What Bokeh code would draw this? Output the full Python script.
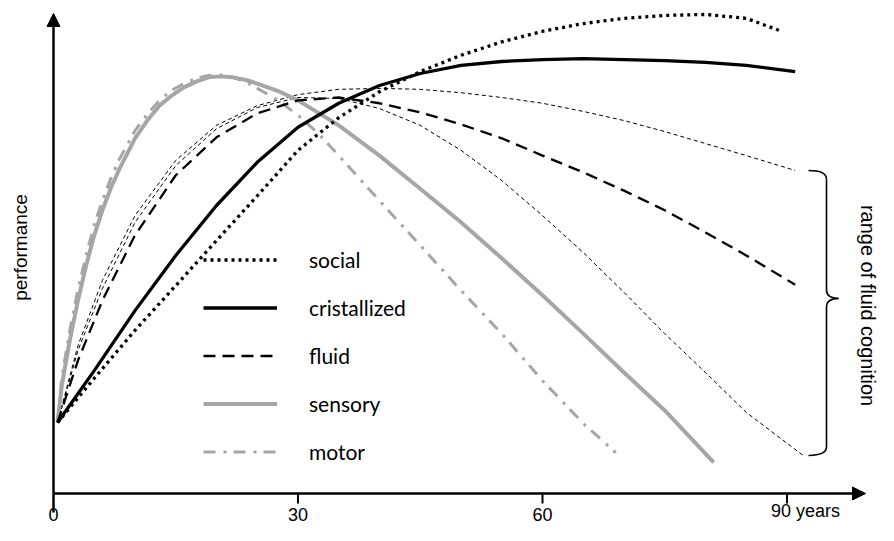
import numpy as np
from bokeh.plotting import figure
from bokeh.models import Range1d, Arrow, NormalHead, Legend, LegendItem
from bokeh.embed import file_html
from bokeh.resources import INLINE
from bokeh.core.properties import value

# ---------------- data (age in years, performance in arbitrary units 0-100) -------------
social_age = [0.5, 5, 10, 15, 20, 25, 30, 35, 40, 45, 50, 55, 60, 65, 70, 75, 80, 85, 89]
social_perf = [14.8, 24.0, 34.0, 43.3, 52.7, 62.0, 71.5, 78.3, 83.7, 87.9, 91.3, 94.1, 96.3, 97.9, 99.0, 99.6, 99.8, 99.0, 96.5]

cristallized_age = [0.5, 5, 10, 15, 20, 25, 30, 35, 40, 45, 50, 55, 60, 65, 70, 75, 80, 85, 91]
cristallized_perf = [14.8, 25.6, 38.1, 49.6, 60.0, 69.0, 76.3, 81.3, 85.0, 87.5, 89.2, 90.0, 90.4, 90.6, 90.4, 90.2, 89.8, 89.2, 87.9]

fluid_age = [0.5, 3, 6, 10, 15, 20, 25, 30, 35, 40, 45, 50, 55, 60, 65, 70, 75, 80, 85, 91]
fluid_perf = [14.8, 27.7, 40.2, 53.8, 66.3, 74.2, 79.2, 81.9, 82.5, 81.3, 79.4, 76.9, 74.0, 70.4, 66.9, 63.1, 59.0, 54.4, 49.6, 43.5]

fluid_high_age = [0.5, 3, 6, 10, 15, 20, 25, 30, 35, 40, 45, 50, 55, 60, 65, 70, 75, 80, 85, 91]
fluid_high_perf = [14.8, 30.8, 44.4, 57.9, 69.4, 76.7, 80.8, 83.1, 84.2, 84.4, 84.2, 83.5, 82.5, 81.3, 79.6, 77.7, 75.4, 72.9, 70.4, 67.3]

fluid_low_age = [0.5, 3, 6, 10, 15, 20, 25, 30, 35, 40, 45, 50, 55, 60, 65, 70, 75, 80, 85, 92]
fluid_low_perf = [14.8, 29.8, 42.7, 56.5, 68.3, 76.0, 80.4, 82.5, 82.3, 80.2, 76.7, 71.5, 65.2, 57.9, 50.2, 41.9, 33.3, 25.2, 16.9, 7.9]

sensory_age = [0.5, 1, 2, 3, 4, 5, 6, 7, 8, 10, 11.5, 13, 14.5, 16, 17.5, 19, 20.5, 22, 23.5, 25, 27.5,
               30, 35, 40, 45, 50, 55, 60, 65, 70, 75, 81]
sensory_perf = [14.8, 22.3, 31.9, 40.2, 47.5, 53.8, 59.0, 63.5, 67.3, 74.0, 77.7, 80.8, 82.9, 84.6, 85.8, 86.7, 86.9, 86.7, 86.2, 85.4, 83.9,
                81.9, 76.7, 70.4, 63.5, 56.5, 49.0, 41.3, 33.3, 25.2, 17.3, 6.5]

motor_age = [0.5, 1, 2, 3, 4, 5, 6, 7, 8, 10, 11.5, 13, 14.5, 16, 17.5, 19, 20.5, 22, 23.5, 25, 27.5,
             30, 32.5, 35, 40, 45, 50, 55, 60, 65, 69]
motor_perf = [14.8, 24.0, 34.0, 42.5, 49.6, 56.0, 61.0, 65.5, 69.4, 75.6, 79.0, 81.9, 84.0, 85.4, 86.5, 87.1, 87.2, 86.7, 85.8, 84.4, 82.0,
              78.8, 75.0, 70.4, 61.0, 51.7, 42.3, 33.3, 23.5, 14.6, 8.5]

TICKS = [0, 30, 60, 90]
TICK_LABELS = ["0", "30", "60", "90 years"]
LEGEND_LABELS = ["social", "cristallized", "fluid", "sensory", "motor"]
Y_LABEL = "performance"
BRACE_LABEL = "range of fluid cognition"

# ---------------- figure -------------------------------------------------------------------
W, H = 878, 525
PX_X, PX_Y = 8.15, 4.8          # pixels per year / per performance unit
OX, OY = 53, 493                # canvas position of the origin

def sx(px):   # canvas x -> age
    return (px - OX) / PX_X

def sy(py):   # canvas y -> performance
    return (OY - py) / PX_Y

p = figure(width=W, height=H, output_backend="svg", toolbar_location=None,
           x_range=Range1d(sx(0), sx(W)), y_range=Range1d(sy(H), sy(0)),
           min_border=0, outline_line_color=None)
p.axis.visible = False
p.grid.visible = False
p.background_fill_color = "white"
p.border_fill_color = "white"

GRAY = "#a6a6a6"
BLACK = "#000000"

# thin dashed range of fluid cognition
p.line(fluid_high_age, fluid_high_perf, line_color=BLACK, line_width=1, line_dash="4 3")
p.line(fluid_low_age, fluid_low_perf, line_color=BLACK, line_width=1, line_dash="4 3")

r_sens = p.line(sensory_age, sensory_perf, line_color=GRAY, line_width=4, line_join="round")
r_motor = p.line(motor_age, motor_perf, line_color=GRAY, line_width=3, line_dash="12 8 3 7")
r_fluid = p.line(fluid_age, fluid_perf, line_color=BLACK, line_width=2.3, line_dash="12 7")
r_crist = p.line(cristallized_age, cristallized_perf, line_color=BLACK, line_width=3.3, line_join="round")
r_social = p.line(social_age, social_perf, line_color=BLACK, line_width=3.3, line_dash="3 4")

# ---------------- axes -----------------------------------------------------------------------
p.add_layout(Arrow(end=NormalHead(size=13, fill_color=BLACK, line_color=BLACK),
                   x_start=0, y_start=0, x_end=sx(865), y_end=0,
                   line_width=2.5, line_color=BLACK))
p.add_layout(Arrow(end=NormalHead(size=13, fill_color=BLACK, line_color=BLACK),
                   x_start=0, y_start=0, x_end=0, y_end=sy(13),
                   line_width=2.5, line_color=BLACK))
p.ray(x=[0], y=[0], length=19, length_units="screen", angle=-np.pi / 2,
      line_color=BLACK, line_width=2.5)
p.ray(x=TICKS[1:], y=[0] * 3, length=10, length_units="screen", angle=-np.pi / 2,
      line_color=BLACK, line_width=2)

label_y = sy(520)
p.text(x=TICKS[:3], y=[label_y] * 3, text=TICK_LABELS[:3],
       text_font=value("Liberation Sans"), text_font_size="18px",
       text_align="center", text_baseline="bottom", text_color=BLACK)
p.text(x=[TICKS[3]], y=[label_y], text=[TICK_LABELS[3]], x_offset=-16,
       text_font=value("Liberation Sans"), text_font_size="18px",
       text_align="left", text_baseline="bottom", text_color=BLACK)

p.text(x=[sx(20)], y=[sy(247)], text=[Y_LABEL], angle=np.pi / 2,
       text_font=value("Liberation Sans"), text_font_size="19px",
       text_align="center", text_baseline="middle", text_color=BLACK)

# ---------------- brace ----------------------------------------------------------------------
bx_l, bx_s, bx_t = sx(808), sx(826), sx(838)
by_top, by_mid, by_bot = sy(170), sy(298), sy(455)
rr = 1.8
p.quadratic(x0=[bx_l, bx_s, bx_t, bx_s], y0=[by_top, by_mid + rr, by_mid, by_bot + rr],
            x1=[bx_s, bx_t, bx_s, bx_l], y1=[by_top - rr, by_mid, by_mid - rr, by_bot],
            cx=[bx_s, bx_s, bx_s, bx_s], cy=[by_top, by_mid, by_mid, by_bot],
            line_color=BLACK, line_width=1.6)
p.segment(x0=[bx_s, bx_s], y0=[by_top - rr, by_mid - rr], x1=[bx_s, bx_s], y1=[by_mid + rr, by_bot + rr],
          line_color=BLACK, line_width=1.6)
p.text(x=[sx(867)], y=[sy(305)], text=[BRACE_LABEL], angle=-np.pi / 2,
       text_font=value("Liberation Sans"), text_font_size="20px",
       text_align="center", text_baseline="middle", text_color=BLACK)

# ---------------- legend ---------------------------------------------------------------------
legend = Legend(items=[LegendItem(label=lab, renderers=[r]) for lab, r in
                       zip(LEGEND_LABELS, [r_social, r_crist, r_fluid, r_sens, r_motor])],
                location=(203, 61), orientation="vertical",
                glyph_width=74, glyph_height=25, label_height=25, spacing=23,
                label_standoff=32, padding=0, margin=0,
                border_line_color=None, background_fill_alpha=0,
                label_text_font="Lato", label_text_font_size="21px", label_text_color=BLACK)
p.add_layout(legend)

open("out.html", "w").write(file_html(p, INLINE))
